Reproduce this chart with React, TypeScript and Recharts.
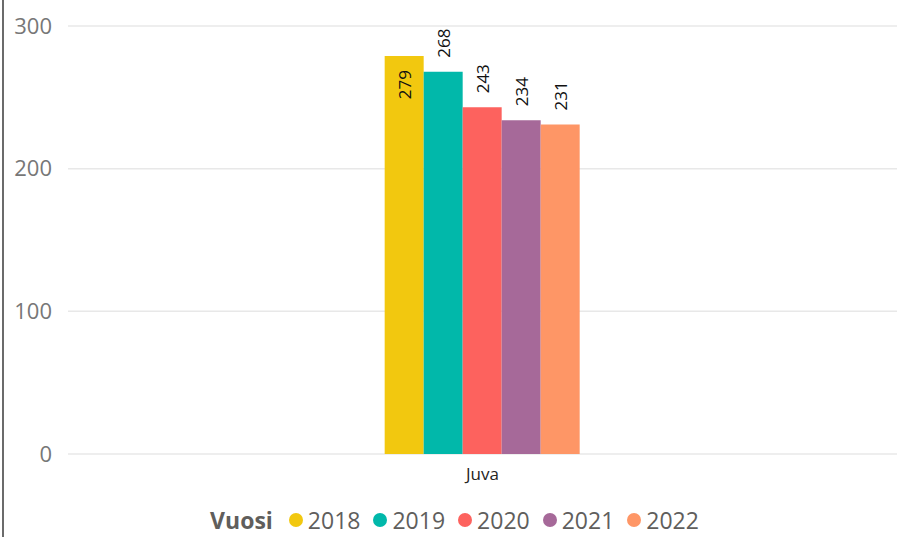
import React from "react";
import { Bar, BarChart, CartesianGrid, LabelList, Legend, XAxis, YAxis } from "recharts";

const categories = ["Juva"];
const years = ["2018", "2019", "2020", "2021", "2022"];
const values = [279, 268, 243, 234, 231];
const colors = ["#F2C80F", "#01B8AA", "#FD625E", "#A66999", "#FE9666"];
const yTicks = [0, 100, 200, 300];

const data = categories.map((name) => {
  const row: Record<string, string | number> = { name };
  years.forEach((y, i) => {
    row[y] = values[i];
  });
  return row;
});

const FONT = "'Open Sans', 'Noto Sans', sans-serif";
const PLOT_TOP = 26;

function BarValueLabel(props: any) {
  const { x, y, width, value } = props;
  const fs = 17;
  const len = String(value).length * fs * 0.58;
  const cx = x + width / 2;
  const pad = 14;
  // Power BI puts the label inside the bar when it would not fit above it
  const inside = y - pad - len < PLOT_TOP;
  const ay = inside ? y + pad : y - pad;
  return (
    <text
      x={cx}
      y={ay}
      transform={`rotate(-90 ${cx} ${ay})`}
      textAnchor={inside ? "end" : "start"}
      dominantBaseline="central"
      fontSize={fs}
      fontFamily={FONT}
      fill="#111"
    >
      {value}
    </text>
  );
}

function LegendContent() {
  return (
    <div
      style={{
        height: 40,
        boxSizing: "border-box",
        paddingTop: 6,
        display: "flex",
        alignItems: "center",
        justifyContent: "center",
        fontFamily: FONT,
        fontSize: 23,
        lineHeight: "26px",
        color: "#605E5C",
        paddingLeft: 12,
      }}
    >
      <span style={{ fontWeight: 700, marginRight: 16 }}>Vuosi</span>
      {years.map((y, i) => (
        <span key={y} style={{ display: "flex", alignItems: "center", marginRight: i < years.length - 1 ? 13 : 0 }}>
          <span
            style={{
              width: 14,
              height: 14,
              borderRadius: 7,
              background: colors[i],
              display: "inline-block",
              marginRight: 5,
            }}
          />
          {y}
        </span>
      ))}
    </div>
  );
}

export default function App() {
  return (
    <div style={{ position: "absolute", left: 0, top: 0, width: 897, height: 537, background: "#fff" }}>
      <div style={{ position: "absolute", left: 2, top: 0, width: 2, height: 537, background: "#6b6b6b" }} />
      <BarChart
        width={897}
        height={537}
        data={data}
        margin={{ top: PLOT_TOP, right: 0, left: 0, bottom: 0 }}
        barCategoryGap="38.2%"
        barGap={0}
      >
        <CartesianGrid vertical={false} stroke="#e8e8e8" strokeWidth={1.5} />
        <XAxis
          dataKey="name"
          axisLine={false}
          tickLine={false}
          height={43}
          tickMargin={8}
          tick={{ fontSize: 17, fill: "#252423", fontFamily: FONT }}
        />
        <YAxis
          domain={[0, 300]}
          ticks={yTicks}
          width={68}
          axisLine={false}
          tickLine={false}
          tickMargin={10}
          tick={{ fontSize: 22, fill: "#777", fontFamily: FONT }}
        />
        <Legend verticalAlign="bottom" content={<LegendContent />} />
        {years.map((y, i) => (
          <Bar key={y} dataKey={y} fill={colors[i]} isAnimationActive={false}>
            <LabelList dataKey={y} content={<BarValueLabel />} />
          </Bar>
        ))}
      </BarChart>
    </div>
  );
}
